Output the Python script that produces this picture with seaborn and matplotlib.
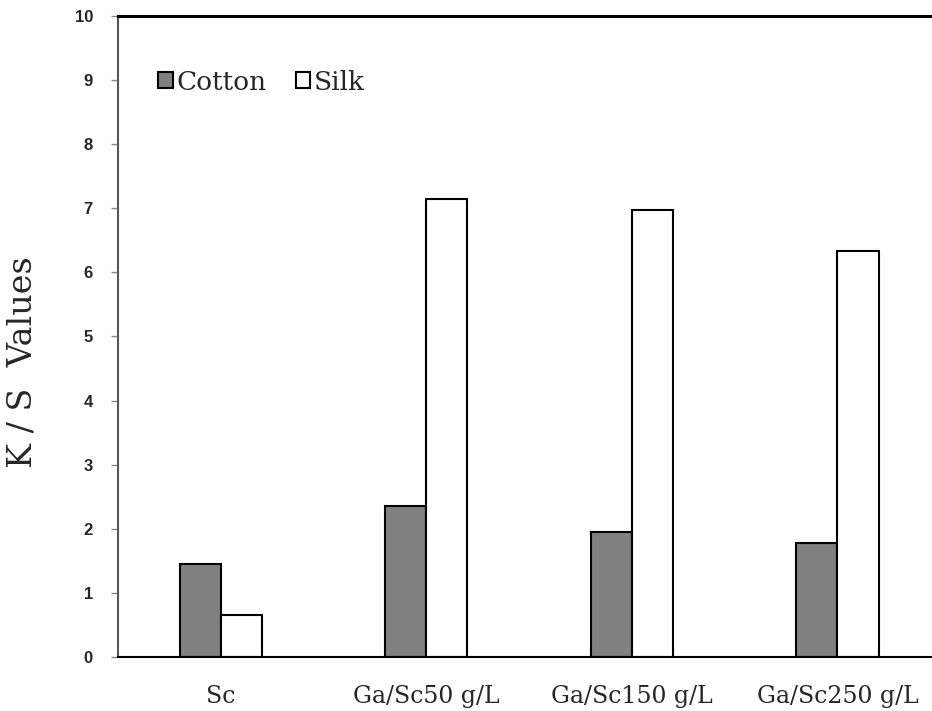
import matplotlib
matplotlib.use("Agg")
import matplotlib.pyplot as plt
import seaborn as sns
import pandas as pd

# values
categories = ["Sc", "Ga/Sc50 g/L", "Ga/Sc150 g/L", "Ga/Sc250 g/L"]
cotton = [1.45, 2.35, 1.95, 1.78]
silk = [0.65, 7.15, 6.97, 6.33]
y_ticks = list(range(0, 11))

df = pd.DataFrame({
    "Treatment": categories * 2,
    "Fabric": ["Cotton"] * len(categories) + ["Silk"] * len(categories),
    "KS": cotton + silk,
})

sns.set_style("white")
fig = plt.figure(figsize=(9.32, 7.11), dpi=100)
ax = fig.add_axes([118 / 932, 1 - 657 / 711, 1 - 118 / 932, (657 - 16) / 711])

sns.barplot(data=df, x="Treatment", y="KS", hue="Fabric",
            palette={"Cotton": "#808080", "Silk": "#ffffff"},
            width=0.4, edgecolor="black", linewidth=1.5, ax=ax)

ax.set_xlim(-0.5, 3.46)
ax.set_ylim(0, 10)
ax.set_yticks(y_ticks)
ax.set_yticklabels([str(t) for t in y_ticks], fontsize=12, fontweight="bold",
                   family="Liberation Sans")
ax.set_xticks(range(len(categories)))
ax.set_xticklabels(categories, fontsize=17, family="DejaVu Serif")
ax.tick_params(axis="y", left=True, length=5, width=1, color="#888888", pad=13)
ax.tick_params(axis="x", bottom=False, length=0, pad=20)

ax.set_xlabel("")
ax.set_ylabel("K / S  Values", fontsize=24, family="DejaVu Serif")
ax.yaxis.set_label_coords(-0.098, 0.46)

for side in ["top", "bottom"]:
    ax.spines[side].set_color("black")
ax.spines["top"].set_linewidth(2.2)
ax.spines["bottom"].set_linewidth(1.5)
ax.spines["left"].set_color("#555555")
ax.spines["left"].set_linewidth(1.5)
ax.spines["right"].set_visible(False)

ax.legend_.remove()
handles, labels = ax.get_legend_handles_labels()
fig.legend(handles, labels, loc="center left",
           bbox_to_anchor=(158 / 932, 1 - 82 / 711), bbox_transform=fig.transFigure,
           ncol=2, frameon=False, borderpad=0, borderaxespad=0,
           handlelength=0.55, handleheight=0.55, handletextpad=0.15,
           columnspacing=1.1, prop={"family": "DejaVu Serif", "size": 19})

fig.savefig("out.png", dpi=100)
